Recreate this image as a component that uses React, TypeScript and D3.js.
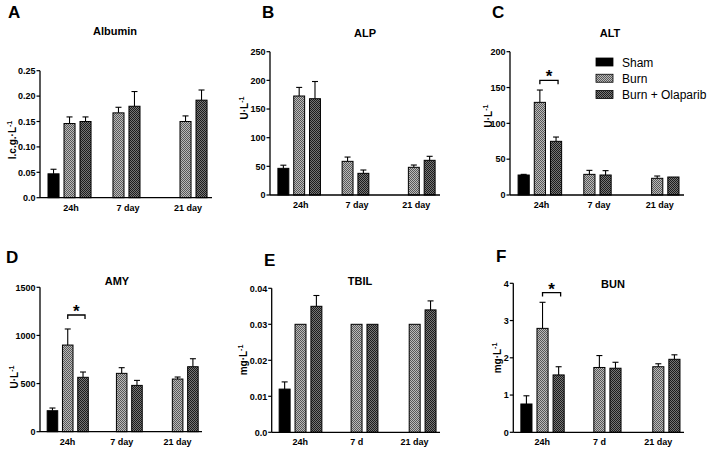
import React from "react";
import * as d3 from "d3";

// ---- data ----
const SERIES = ["Sham", "Burn", "Burn + Olaparib"];
const CATS_TOP = ["24h", "7 day", "21 day"];
const CATS_D = ["24h", "7 day", "21 day"];
const CATS_EF = ["24h", "7 d", "21 day"];

// rows = time points, columns = Sham, Burn, Burn + Olaparib
const albuminMean = [[0.047, 0.146, 0.150], [null, 0.167, 0.180], [null, 0.150, 0.192]];
const albuminErr = [[0.009, 0.013, 0.009], [null, 0.011, 0.029], [null, 0.011, 0.020]];
const alpMean = [[46.5, 172.7, 168], [null, 58.7, 37.8], [null, 48.3, 60.5]];
const alpErr = [[5.5, 15, 30], [null, 7.5, 5.8], [null, 4, 7]];
const altMean = [[27.9, 129.3, 74.9], [null, 28.8, 27.9], [null, 23.3, 25.1]];
const altErr = [[0.9, 17.2, 6], [null, 5.6, 6.1], [null, 3.2, 0]];
const amyMean = [[218, 900, 565], [null, 606, 481], [null, 547, 675]];
const amyErr = [[28, 167, 55], [null, 59, 52], [null, 21, 83]];
const tbilMean = [[0.012, 0.030, 0.035], [null, 0.030, 0.030], [null, 0.030, 0.034]];
const tbilErr = [[0.002, 0, 0.003], [null, 0, 0], [null, 0, 0.0025]];
const bunMean = [[0.76, 2.79, 1.54], [null, 1.74, 1.72], [null, 1.76, 1.96]];
const bunErr = [[0.22, 0.70, 0.22], [null, 0.32, 0.16], [null, 0.08, 0.12]];

// significance brackets: [group, y value]
const altSig = [0, 160];
const amySig = [0, 1212];
const bunSig = [0, 3.75];

// ---- layout ----
const TOP_ROW = { units: 10.75, groupStart: [0.5, 3.56, 7.75], labelPos: [1.94, 5.5, 9.25] };
const BOT_ROW = { units: 10.6, groupStart: [0.47, 4.0, 7.66], labelPos: [1.8, 5.35, 9.0] };
const BAR_W = 0.69;

const fmtDec = (v: number) => (v === 0 ? "0.0" : d3.format(".2f")(v));
const fmtInt = d3.format("d");

const PANELS = [
  { letter: "A", lx: 8, ly: 18, title: "Albumin", tx: 115, ty: 35, x0: 40, x1: 212, yZero: 197.7, yTop: 70.7, max: 0.25, nt: 5, fmt: fmtDec, yl: "l.c.g.·L", ylx: 12, yly: 140, row: TOP_ROW, cats: CATS_TOP, mean: albuminMean, err: albuminErr, sig: null },
  { letter: "B", lx: 262, ly: 18, title: "ALP", tx: 365, ty: 37, x0: 270, x1: 440, yZero: 195, yTop: 51.7, max: 250, nt: 5, fmt: fmtInt, yl: "U·L", ylx: 244, yly: 108, row: TOP_ROW, cats: CATS_TOP, mean: alpMean, err: alpErr, sig: null },
  { letter: "C", lx: 492, ly: 18, title: "ALT", tx: 610, ty: 37, x0: 510, x1: 684, yZero: 195, yTop: 51.7, max: 200, nt: 4, fmt: fmtInt, yl: "U·L", ylx: 488, yly: 116, row: TOP_ROW, cats: CATS_TOP, mean: altMean, err: altErr, sig: altSig },
  { letter: "D", lx: 6, ly: 263, title: "AMY", tx: 117, ty: 285, x0: 40, x1: 202, yZero: 431.7, yTop: 287.3, max: 1500, nt: 3, fmt: fmtInt, yl: "U·L", ylx: 14, yly: 377, row: BOT_ROW, cats: CATS_D, mean: amyMean, err: amyErr, sig: amySig },
  { letter: "E", lx: 264, ly: 266, title: "TBIL", tx: 360, ty: 285, x0: 271.7, x1: 440, yZero: 432.3, yTop: 288.3, max: 0.04, nt: 4, fmt: fmtDec, yl: "mg·L", ylx: 243, yly: 360, row: BOT_ROW, cats: CATS_EF, mean: tbilMean, err: tbilErr, sig: null },
  { letter: "F", lx: 496, ly: 262, title: "BUN", tx: 613, ty: 288, x0: 513.3, x1: 684, yZero: 432.3, yTop: 283.3, max: 4, nt: 4, fmt: fmtInt, yl: "mg·L", ylx: 497, yly: 358, row: BOT_ROW, cats: CATS_EF, mean: bunMean, err: bunErr, sig: bunSig },
];

const FILLS = ["#000000", "url(#patBurn)", "url(#patOla)"];
const FONT = "'Liberation Sans', Arial, sans-serif";

function Panel({ p }: { p: any }) {
  const x = d3.scaleLinear().domain([0, p.row.units]).range([p.x0, p.x1]);
  const y = d3.scaleLinear().domain([0, p.max]).range([p.yZero, p.yTop]);
  const ticks = y.ticks(p.nt);
  const bw = x(BAR_W) - x(0);
  const barX = (g: number, s: number) => x(p.row.groupStart[g] + s);
  return (
    <g>
      <text x={p.lx} y={p.ly} fontFamily={FONT} fontWeight="bold" fontSize={17}>{p.letter}</text>
      <text x={p.tx} y={p.ty} fontFamily={FONT} fontWeight="bold" fontSize={11} textAnchor="middle">{p.title}</text>
      {p.mean.map((row: (number | null)[], g: number) =>
        row.map((v, s) => {
          if (v == null) return null;
          const bx = barX(g, s);
          const e = p.err[g][s] || 0;
          const cx = bx + bw / 2;
          return (
            <g key={`${g}-${s}`}>
              {e > 0 && (
                <g stroke="#000" strokeWidth={1.1}>
                  <line x1={cx} x2={cx} y1={y(v)} y2={y(v + e)} />
                  <line x1={cx - 3} x2={cx + 3} y1={y(v + e)} y2={y(v + e)} />
                </g>
              )}
              <rect x={bx} y={y(v)} width={bw} height={y(0) - y(v)} fill={FILLS[s]} stroke="#000" strokeWidth={1} />
            </g>
          );
        })
      )}
      <line x1={p.x0} x2={p.x1} y1={y(0)} y2={y(0)} stroke="#000" strokeWidth={1.3} />
      <line x1={p.x0} x2={p.x0} y1={y(0)} y2={y(p.max)} stroke="#000" strokeWidth={1.3} />
      {ticks.map((t: number) => (
        <g key={t}>
          <line x1={p.x0 - 3.5} x2={p.x0} y1={y(t)} y2={y(t)} stroke="#000" strokeWidth={1.2} />
          <text x={p.x0 - 4.5} y={y(t) + 3.2} textAnchor="end" fontFamily={FONT} fontWeight="bold" fontSize={9}>{p.fmt(t)}</text>
        </g>
      ))}
      {p.cats.map((c: string, g: number) => (
        <text key={c} x={x(p.row.labelPos[g])} y={y(0) + 13} textAnchor="middle" fontFamily={FONT} fontWeight="bold" fontSize={9}>{c}</text>
      ))}
      <text transform={`translate(${p.ylx},${p.yly}) rotate(-90)`} textAnchor="middle" fontFamily={FONT} fontWeight="bold" fontSize={10} dy="3.5">
        {p.yl}
        <tspan fontSize={7} dy={-4}>-1</tspan>
      </text>
      {p.sig && (() => {
        const g = p.sig[0];
        const xa = barX(g, 1) + bw / 2;
        const xb = barX(g, 2) + bw / 2 + 2;
        const ys = y(p.sig[1]);
        return (
          <g>
            <path d={`M${xa},${ys + 4}V${ys}H${xb}V${ys + 4}`} fill="none" stroke="#000" strokeWidth={1.3} />
            <text x={(xa + xb) / 2} y={ys + 8} textAnchor="middle" fontFamily={FONT} fontWeight="bold" fontSize={17} dy="-0.35em">*</text>
          </g>
        );
      })()}
    </g>
  );
}

export default function App() {
  const legendY = d3.scalePoint().domain(SERIES).range([62, 94.5]);
  return (
    <svg width={709} height={450} style={{ position: "absolute", left: 0, top: 0, background: "#fff" }}>
      <defs>
        <pattern id="patBurn" width={2} height={2} patternUnits="userSpaceOnUse">
          <rect width={2} height={2} fill="#bababa" />
          <rect width={1} height={1} fill="#585858" />
          <rect x={1} y={1} width={1} height={1} fill="#585858" />
        </pattern>
        <pattern id="patOla" width={2} height={2} patternUnits="userSpaceOnUse">
          <rect width={2} height={2} fill="#767676" />
          <rect width={1} height={1} fill="#1c1c1c" />
          <rect x={1} y={1} width={1} height={1} fill="#1c1c1c" />
        </pattern>
      </defs>
      <rect width={709} height={450} fill="#fff" />
      {PANELS.map((p) => <Panel key={p.letter} p={p} />)}
      {SERIES.map((s, i) => (
        <g key={s}>
          <rect x={596} y={(legendY(s) as number) - 4} width={17} height={8} fill={FILLS[i]} stroke="#000" strokeWidth={0.8} />
          <text x={622} y={(legendY(s) as number) + 4.5} fontFamily={FONT} fontSize={12}>{s}</text>
        </g>
      ))}
    </svg>
  );
}
